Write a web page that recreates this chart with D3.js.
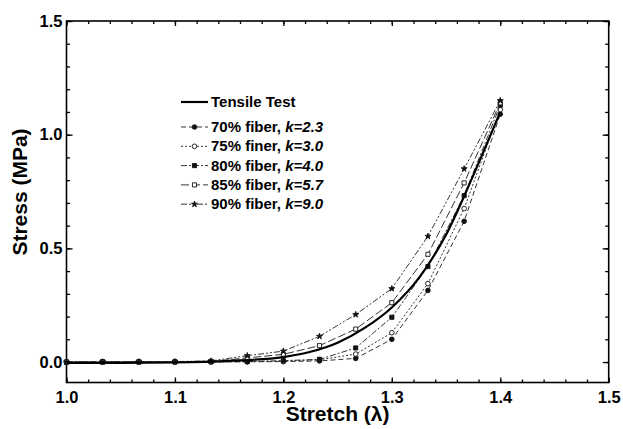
<html><head><title>Stress vs Stretch</title><meta charset="utf-8"><style>
body { margin: 0; background: #fff; }
text { font-family: Arial, "Liberation Sans", sans-serif; }
</style>
<script src="https://d3js.org/d3.v7.min.js"></script>
</head>
<body>
<div id="chart"></div>
<script>
// data
const stretch = [1.0, 1.0333, 1.0667, 1.1, 1.1333, 1.1667, 1.2, 1.2333, 1.2667, 1.3, 1.3333, 1.3667, 1.4];
const fiber70 = [0, 0.001, 0.001, 0.001, 0.001, 0.001, 0.002, 0.005, 0.016, 0.10, 0.315, 0.619, 1.09];
const fiber75 = [0, 0.001, 0.001, 0.001, 0.001, 0.002, 0.004, 0.010, 0.035, 0.129, 0.345, 0.675, 1.11];
const fiber80 = [0, 0.001, 0.001, 0.001, 0.001, 0.002, 0.006, 0.012, 0.062, 0.197, 0.42, 0.732, 1.13];
const fiber85 = [0, 0.001, 0.001, 0.001, 0.003, 0.018, 0.034, 0.072, 0.145, 0.261, 0.474, 0.788, 1.14];
const fiber90 = [0, 0.001, 0.001, 0.002, 0.005, 0.028, 0.048, 0.113, 0.209, 0.323, 0.553, 0.85, 1.15];

const tensileX = [1.0, 1.05, 1.1, 1.15, 1.2, 1.225, 1.25, 1.275, 1.3, 1.325, 1.35, 1.375, 1.4];
const tensileY = [-0.004, -0.004, -0.002, 0.005, 0.022, 0.045, 0.085, 0.15, 0.24, 0.37, 0.56, 0.82, 1.10];

const seriesNames = ["70% fiber, ", "75% finer, ", "80% fiber, ", "85% fiber, ", "90% fiber, "];
const seriesK = ["k=2.3", "k=3.0", "k=4.0", "k=5.7", "k=9.0"];
const seriesValues = [fiber70, fiber75, fiber80, fiber85, fiber90];
const seriesDash = ["5,3", "2,2", "6,2,2,2", "8,3", "6,2,2,2,2,2"];
const seriesSymbol = [d3.symbolCircle, d3.symbolCircle, d3.symbolSquare, d3.symbolSquare, d3.symbolStar];
const seriesFilled = [true, false, true, false, true];

const xMajor = [1.0, 1.1, 1.2, 1.3, 1.4, 1.5];
const yMajor = [0.0, 0.5, 1.0, 1.5];

const width = 623;
const height = 429;
const margin = {top: 21, right: 14.3, bottom: 46.5, left: 66.5};

const svg = d3.select("#chart")
    .append("svg")
    .attr("width", width)
    .attr("height", height);

const x = d3.scaleLinear().domain([1.0, 1.5]).range([margin.left, width - margin.right]);
const y = d3.scaleLinear().domain([-0.09, 1.5]).range([height - margin.bottom, margin.top]);

const xMinor = d3.range(1.0, 1.5001, 0.02);
const yMinor = d3.range(0, 1.5001, 0.1);

// minor ticks on all four sides
svg.append("g").attr("transform", `translate(0,${y.range()[0]})`)
    .call(d3.axisBottom(x).tickValues(xMinor).tickSize(-3).tickFormat(""));
svg.append("g").attr("transform", `translate(0,${y.range()[1]})`)
    .call(d3.axisTop(x).tickValues(xMinor).tickSize(-3).tickFormat(""));
svg.append("g").attr("transform", `translate(${x.range()[0]},0)`)
    .call(d3.axisLeft(y).tickValues(yMinor).tickSize(-3.5).tickFormat(""));
svg.append("g").attr("transform", `translate(${x.range()[1]},0)`)
    .call(d3.axisRight(y).tickValues(yMinor).tickSize(-3.5).tickFormat(""));

// major ticks + labels
svg.append("g").attr("transform", `translate(0,${y.range()[0]})`)
    .call(d3.axisBottom(x).tickValues(xMajor).tickSize(-5).tickPadding(8.5).tickFormat(d3.format(".1f")));
svg.append("g").attr("transform", `translate(0,${y.range()[1]})`)
    .call(d3.axisTop(x).tickValues(xMajor).tickSize(-5).tickFormat(""));
svg.append("g").attr("transform", `translate(${x.range()[0]},0)`)
    .call(d3.axisLeft(y).tickValues(yMajor).tickSize(-6).tickPadding(4).tickFormat(d3.format(".1f")));
svg.append("g").attr("transform", `translate(${x.range()[1]},0)`)
    .call(d3.axisRight(y).tickValues(yMajor).tickSize(-6).tickFormat(""));

svg.selectAll(".domain").remove();
svg.selectAll(".tick line").attr("stroke", "#000").attr("stroke-width", 1.3);
svg.selectAll(".tick text")
    .attr("fill", "#000")
    .style("font-size", "16.5px")
    .style("font-weight", "bold")
    .style("font-family", "Arial, 'Liberation Sans', sans-serif");

// frame
svg.append("rect")
    .attr("x", x.range()[0])
    .attr("y", y.range()[1])
    .attr("width", x.range()[1] - x.range()[0])
    .attr("height", y.range()[0] - y.range()[1])
    .attr("fill", "none")
    .attr("stroke", "#000")
    .attr("stroke-width", 1.6);

// axis titles
svg.append("text")
    .attr("x", (x.range()[0] + x.range()[1]) / 2)
    .attr("y", 421)
    .attr("text-anchor", "middle")
    .style("font-size", "21px")
    .style("font-weight", "bold")
    .text("Stretch (λ)");

svg.append("text")
    .attr("transform", "translate(27,192) rotate(-90)")
    .attr("text-anchor", "middle")
    .style("font-size", "21px")
    .style("font-weight", "bold")
    .text("Stress (MPa)");

// fiber model series
const line = d3.line().x(d => x(d[0])).y(d => y(d[1]));
const symSize = i => seriesSymbol[i] === d3.symbolStar ? 11 : 17;

seriesValues.forEach((vals, i) => {
    const pts = stretch.map((s, j) => [s, vals[j]]);
    svg.append("path")
        .attr("d", line(pts))
        .attr("fill", "none")
        .attr("stroke", "#333")
        .attr("stroke-width", 1)
        .attr("stroke-dasharray", seriesDash[i]);

    svg.selectAll(null)
        .data(pts)
        .join("path")
        .attr("transform", d => `translate(${x(d[0])},${y(d[1])})`)
        .attr("d", d3.symbol().type(seriesSymbol[i]).size(symSize(i)))
        .attr("fill", seriesFilled[i] ? "#111" : "#fff")
        .attr("stroke", "#111")
        .attr("stroke-width", 0.9);
});

// tensile test curve
const tensileLine = d3.line().x(d => x(d[0])).y(d => y(d[1])).curve(d3.curveMonotoneX);
svg.append("path")
    .attr("d", tensileLine(tensileX.map((s, j) => [s, tensileY[j]])))
    .attr("fill", "none")
    .attr("stroke", "#000")
    .attr("stroke-width", 2.2);

// legend
const legX1 = 181, legX2 = 208, legText = 211;
const legend = svg.append("g");
legend.append("line")
    .attr("x1", legX1).attr("x2", legX2)
    .attr("y1", 102).attr("y2", 102)
    .attr("stroke", "#000").attr("stroke-width", 2.2);
legend.append("text")
    .attr("x", legText).attr("y", 107)
    .style("font-size", "15px").style("font-weight", "bold")
    .text("Tensile Test");

const legY = [132, 151.3, 170.6, 189.9, 209.2];
seriesNames.forEach((name, i) => {
    const ly = legY[i] - 5;
    legend.append("line")
        .attr("x1", legX1).attr("x2", legX2)
        .attr("y1", ly).attr("y2", ly)
        .attr("stroke", "#333").attr("stroke-width", 1)
        .attr("stroke-dasharray", seriesDash[i]);
    legend.append("path")
        .attr("transform", `translate(${(legX1 + legX2) / 2},${ly})`)
        .attr("d", d3.symbol().type(seriesSymbol[i]).size(symSize(i)))
        .attr("fill", seriesFilled[i] ? "#111" : "#fff")
        .attr("stroke", "#111")
        .attr("stroke-width", 0.9);
    const t = legend.append("text")
        .attr("x", legText).attr("y", legY[i])
        .style("font-size", "15px").style("font-weight", "bold");
    t.append("tspan").text(name);
    t.append("tspan").style("font-style", "italic").text(seriesK[i]);
});
</script>
</body></html>
